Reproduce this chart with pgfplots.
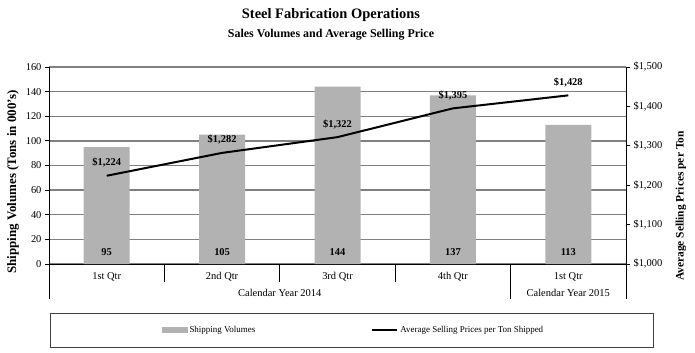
\documentclass[border=0pt]{standalone}
\usepackage{fontspec}
\setmainfont{Liberation Serif}
\usepackage{pgfplots}
\pgfplotsset{compat=1.18}
\usepackage{pgfplotstable}

\pgfplotstableread{
x vol price
0 95 1224
1 105 1282
2 144 1322
3 137 1395
4 113 1428
}\datatable

\definecolor{bargray}{RGB}{178,178,178}
\definecolor{gridgray}{RGB}{128,128,128}

\pgfplotsset{/pgf/number format/assume math mode=true}

\begin{document}
\begin{tikzpicture}[x=1bp,y=1bp]
\useasboundingbox (0,0) rectangle (695,352);
\begin{axis}[
  at={(49bp,88bp)}, anchor=south west,
  scale only axis, width=577bp, height=197bp,
  xmin=-0.5, xmax=4.5, ymin=0, ymax=160,
  ytick={0,20,...,160},
  xtick={0,...,4}, xticklabels={1st Qtr,2nd Qtr,3rd Qtr,4th Qtr,1st Qtr},
  major x tick style={draw=none},
  axis x line*=bottom, axis y line*=left,
  axis line style={black, line width=1bp},
  tick align=outside, major tick length=4bp,
  ytick style={black, line width=0.8bp},
  ymajorgrids, grid style={gridgray, line width=1.3bp},
  tick label style={font=\fontsize{10.5}{12}\selectfont},
  xticklabel style={yshift=-1bp},
  ylabel={Shipping Volumes (Tons in 000’s)},
  ylabel style={at={(axis description cs:-0.0624,0.416)}, anchor=center, font=\bfseries\fontsize{13}{15}\selectfont},
  clip=false,
]
\addplot[ybar, bar width=46bp, fill=bargray, draw=none] table[x=x, y=vol]{\datatable};
\addplot[draw=none, mark=none, nodes near coords, point meta=explicit,
  nodes near coords style={anchor=center, font=\bfseries\fontsize{10.5}{12}\selectfont}]
  table[x=x, y expr=9.7, meta=vol]{\datatable};
\draw[black, line width=1bp] (axis cs:0.5,0) -- ++(0bp,-18bp);
\draw[black, line width=1bp] (axis cs:1.5,0) -- ++(0bp,-18bp);
\draw[black, line width=1bp] (axis cs:2.5,0) -- ++(0bp,-18bp);
\draw[black, line width=1bp] (axis cs:-0.5,0) -- ++(0bp,-35bp);
\draw[black, line width=1bp] (axis cs:3.5,0) -- ++(0bp,-35bp);
\draw[black, line width=1bp] (axis cs:4.5,0) -- ++(0bp,-35bp);
\node[font=\fontsize{10.5}{12}\selectfont] at (axis cs:1.5,0) [yshift=-29bp] {Calendar Year 2014};
\node[font=\fontsize{10.5}{12}\selectfont] at (axis cs:4,0) [yshift=-29bp] {Calendar Year 2015};
\end{axis}
\begin{axis}[
  at={(49bp,88bp)}, anchor=south west,
  scale only axis, width=577bp, height=197bp,
  xmin=-0.5, xmax=4.5, ymin=1000, ymax=1500,
  ytick={1000,1100,...,1500},
  axis y line*=right, axis x line=none,
  axis line style={black, line width=1bp},
  tick align=outside, major tick length=4bp,
  ytick style={black, line width=0.8bp},
  /pgf/number format/1000 sep={,},
  yticklabel={\$\pgfmathprintnumber{\tick}},
  tick label style={font=\fontsize{10.5}{12}\selectfont},
  ylabel={Average Selling Prices per Ton},
  ylabel style={at={(axis description cs:1.095,0.294)}, anchor=center, rotate=0, font=\bfseries\fontsize{11.5}{13}\selectfont},
  legend columns=2,
  legend style={draw=none, fill=none, at={(0.528,-0.335)}, anchor=center,
    font=\fontsize{9}{10}\selectfont,
    /tikz/every even column/.append style={column sep=114bp}},
  clip=false,
]
\addlegendimage{legend image code/.code={\fill[bargray] (0bp,-2.5bp) rectangle (25bp,2.5bp);}}
\addlegendentry{Shipping Volumes}
\addplot[black, line width=2bp, mark=none,
  nodes near coords={\$\pgfmathprintnumber{\pgfplotspointmeta}}, point meta=y,
  nodes near coords style={anchor=south, yshift=4bp, font=\bfseries\fontsize{10.5}{12}\selectfont},
  legend image code/.code={\draw[black, line width=2bp] (0bp,0bp) -- (25bp,0bp);}]
  table[x=x, y=price]{\datatable};
\addlegendentry{Average Selling Prices per Ton Shipped}
\end{axis}
\draw[black!75, line width=0.8bp] (50,5) rectangle (653,39);
\node[font=\bfseries\fontsize{14.5}{16}\selectfont] at (331,337) {Steel Fabrication Operations};
\node[font=\bfseries\fontsize{12}{14}\selectfont] at (331,317) {Sales Volumes and Average Selling Price};
\end{tikzpicture}
\end{document}
